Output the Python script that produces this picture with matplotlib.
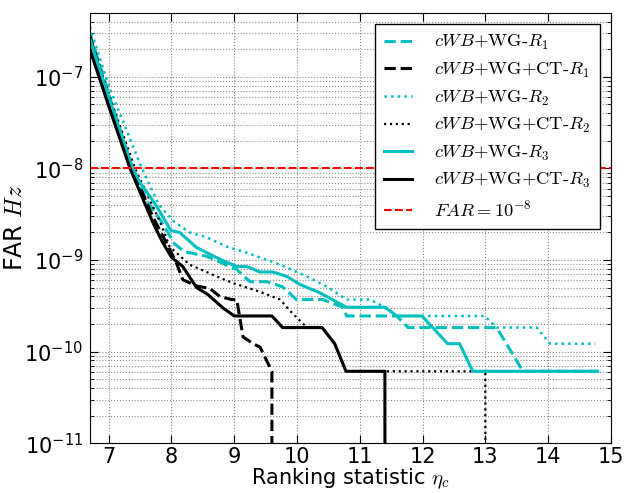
import matplotlib
matplotlib.use('Agg')
import matplotlib.pyplot as plt

plt.rcParams['mathtext.fontset'] = 'cm'

# ranking statistic / FAR values
x_wg_r1 = [6.7, 7.0, 7.38, 7.6, 7.82, 8.05, 8.21, 8.56, 9.04, 9.25, 9.52, 9.77, 9.99, 10.41,
           10.73, 10.79, 11.59, 11.77, 13.18, 13.6, 14.79]
far_wg_r1 = [3.0e-7, 6.5e-8, 1.0e-8, 4.5e-9, 2.75e-9, 1.5e-9, 1.23e-9, 1.1e-9, 7.9e-10, 5.8e-10,
             5.8e-10, 5.1e-10, 3.7e-10, 3.7e-10, 3.05e-10, 2.45e-10, 2.45e-10, 1.83e-10,
             1.83e-10, 6.1e-11, 6.1e-11]

x_ct_r1 = [6.7, 7.0, 7.37, 7.7, 8.0, 8.09, 8.18, 8.4, 8.61, 8.77, 8.96, 9.04, 9.14, 9.3, 9.41,
           9.6, 9.6]
far_ct_r1 = [2.8e-7, 5.5e-8, 1.0e-8, 3.0e-9, 1.2e-9, 8.9e-10, 6.1e-10, 5.2e-10, 4.9e-10,
             4.0e-10, 3.7e-10, 3.7e-10, 1.45e-10, 1.22e-10, 1.12e-10, 6.1e-11, 1e-12]

x_wg_r2 = [6.7, 7.0, 7.53, 7.8, 8.05, 8.29, 8.56, 8.88, 9.2, 9.73, 10.16, 10.48, 10.79, 11.16,
           11.4, 11.59, 12.99, 13.18, 13.82, 14.03, 14.75]
far_wg_r2 = [3.5e-7, 8.0e-8, 1.0e-8, 4.0e-9, 2.6e-9, 2.0e-9, 1.77e-9, 1.4e-9, 1.2e-9, 8.9e-10,
             6.6e-10, 5.1e-10, 3.7e-10, 3.7e-10, 3.05e-10, 2.45e-10, 2.45e-10, 1.83e-10,
             1.83e-10, 1.22e-10, 1.22e-10]

x_ct_r2 = [6.7, 7.0, 7.42, 7.82, 7.97, 8.29, 8.66, 8.98, 9.41, 9.73, 9.93, 10.16, 10.4, 10.6,
           10.78, 13.0, 13.0]
far_ct_r2 = [2.8e-7, 6.5e-8, 1.0e-8, 2.6e-9, 1.4e-9, 8.9e-10, 6.9e-10, 5.6e-10, 4.5e-10,
             3.7e-10, 2.6e-10, 1.83e-10, 1.83e-10, 1.22e-10, 6.1e-11, 6.1e-11, 1e-12]

x_wg_r3 = [6.7, 7.0, 7.38, 7.5, 7.75, 7.99, 8.13, 8.4, 8.77, 9.04, 9.2, 9.41, 9.62, 9.84, 10.05,
           10.36, 10.79, 11.4, 11.59, 11.99, 12.4, 12.59, 12.8, 14.79]
far_wg_r3 = [2.6e-7, 6.0e-8, 1.0e-8, 7.0e-9, 4.0e-9, 2.1e-9, 2.0e-9, 1.37e-9, 1.02e-9, 8.5e-10,
             8.5e-10, 7.4e-10, 7.4e-10, 6.6e-10, 5.4e-10, 4.4e-10, 3.05e-10, 3.05e-10, 2.45e-10,
             2.45e-10, 1.22e-10, 1.22e-10, 6.1e-11, 6.1e-11]

x_ct_r3 = [6.7, 7.0, 7.34, 7.5, 7.7, 7.85, 8.0, 8.18, 8.4, 8.58, 8.82, 9.0, 9.6, 9.77, 10.4,
           10.6, 10.78, 11.4, 11.4]
far_ct_r3 = [2.0e-7, 4.8e-8, 1.0e-8, 5.5e-9, 2.6e-9, 1.6e-9, 1.07e-9, 8.5e-10, 5.0e-10, 4.2e-10,
             3.0e-10, 2.45e-10, 2.45e-10, 1.83e-10, 1.83e-10, 1.22e-10, 6.1e-11, 6.1e-11, 1e-12]

far_threshold = 1e-8

labels = [r'$cWB$+WG-$R_1$', r'$cWB$+WG+CT-$R_1$', r'$cWB$+WG-$R_2$',
          r'$cWB$+WG+CT-$R_2$', r'$cWB$+WG-$R_3$', r'$cWB$+WG+CT-$R_3$',
          r'$FAR = 10^{-8}$']

fig = plt.figure(figsize=(6.24, 4.93), dpi=100)
ax = fig.add_axes([0.144, 0.101, 0.835, 0.873])

cyan = (0.0, 0.75, 0.75)
ax.plot(x_wg_r1, far_wg_r1, '--', color=cyan, lw=2.2, label=labels[0])
ax.plot(x_ct_r1, far_ct_r1, '--', color='k', lw=2.2, label=labels[1])
ax.plot(x_wg_r2, far_wg_r2, ':', color=cyan, lw=1.8, label=labels[2])
ax.plot(x_ct_r2, far_ct_r2, ':', color='k', lw=1.6, label=labels[3])
ax.plot(x_wg_r3, far_wg_r3, '-', color=cyan, lw=2.2, label=labels[4])
ax.plot(x_ct_r3, far_ct_r3, '-', color='k', lw=2.2, label=labels[5])
ax.axhline(far_threshold, color='r', ls='--', lw=1.5, label=labels[6])

ax.set_yscale('log')
ax.set_xlim(6.7, 15)
ax.set_ylim(1e-11, 5e-7)
ax.set_xticks(range(7, 16))

ax.grid(True, which='major', axis='both', ls=':', color='0.55', lw=0.8)
ax.grid(True, which='minor', axis='y', ls=':', color='0.55', lw=0.8)
ax.tick_params(which='both', direction='in', top=True, right=True, labelsize=15)
ax.tick_params(which='major', length=6)
ax.tick_params(axis='x', pad=3)
ax.tick_params(axis='y', pad=5)
ax.tick_params(which='minor', length=3)

ax.set_xlabel(r'Ranking statistic $\eta_c$', fontsize=15, labelpad=-1)
ax.set_ylabel(r'FAR $Hz$', fontsize=17, labelpad=-2)

leg = ax.legend(loc='upper right', prop={'family': 'cmr10', 'size': 13.3}, handlelength=1.5,
                handletextpad=1.2, fancybox=False, framealpha=1, borderaxespad=0.6,
                labelspacing=0.46, borderpad=0.5)
leg.get_frame().set_edgecolor('k')

fig.savefig('out.png', dpi=100)
